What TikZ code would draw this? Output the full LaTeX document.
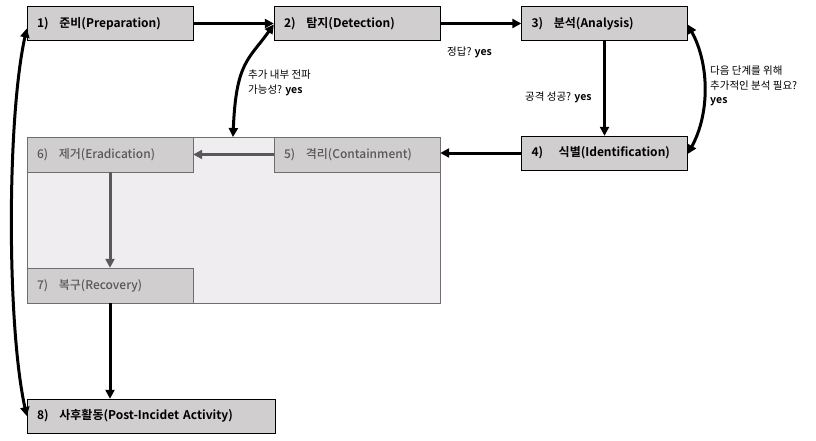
\documentclass[tikz,border=0pt]{standalone}
\usepackage{fontspec}
\setmainfont{Noto Sans CJK KR}[BoldFont={Noto Sans CJK KR Bold}]
\newfontfamily\medfont{Noto Sans CJK KR Medium}
\usetikzlibrary{arrows.meta}
\definecolor{boxgray}{HTML}{D0CECE}
\definecolor{areagray}{HTML}{EFEDEF}
\definecolor{textgray}{HTML}{595959}
\definecolor{linegray}{HTML}{6E6E6E}
\tikzset{
  step box/.style={
    draw=black, fill=boxgray, inner xsep=10pt, inner ysep=0pt,
    minimum height=34pt, text width=#1, align=left,
    font=\fontsize{12}{14}\selectfont\bfseries
  },
  step box/.default=146pt,
  inner box/.style={
    draw=linegray, fill=boxgray, text=textgray, inner xsep=10pt, inner ysep=0pt,
    minimum height=35pt, text width=146pt, align=left,
    font=\fontsize{12}{14}\selectfont\medfont
  },
  big arrow/.style={
    black, line width=3pt, -{Triangle[length=9pt,width=9pt]}
  },
  both arrow/.style={
    black, line width=3pt,
    {Triangle[length=9pt,width=9pt]}-{Triangle[length=9pt,width=9pt]}
  },
  gray arrow/.style={
    textgray, line width=3pt, -{Triangle[length=9pt,width=9pt]}
  },
  note/.style={
    anchor=west, align=left, inner sep=0pt,
    font=\fontsize{10.5}{14.5}\selectfont
  }
}

\begin{document}
\begin{tikzpicture}[x=1pt,y=-1pt]
\useasboundingbox (0,0) rectangle (816,441);

% 위쪽 줄: 1) - 2) - 3)
\node[step box] (b1) at (110,23.5) {1)\hspace{0.9em}준비(Preparation)};
\node[step box] (b2) at (357,23.5) {2)\hspace{0.9em}탐지(Detection)};
\node[step box] (b3) at (604.5,23.5) {3)\hspace{0.9em}분석(Analysis)};
\node[step box] (b4) at (604.5,153) {4)\hspace{1.3em}식별(Identification)};

% 회색 영역: 5) 6) 7)
\node[draw=linegray, fill=areagray, minimum width=413pt, minimum height=166pt,
      inner sep=0pt] (cont) at (233.5,220) {};
\node[inner box] (b5) at (357,154.5) {5)\hspace{0.9em}격리(Containment)};
\node[inner box] (b6) at (110,154.5) {6)\hspace{0.9em}제거(Eradication)};
\node[inner box] (b7) at (110,285.5) {7)\hspace{0.9em}복구(Recovery)};

\node[step box=228pt] (b8) at (151,416) {8)\hspace{0.9em}사후활동(Post-Incidet Activity)};

% 연결선
\draw[big arrow] (b1.east) -- (b2.west);
\draw[big arrow] (b2.east) -- (b3.west);
\draw[big arrow] (b3.south) -- (b4.north);
\draw[big arrow] (b4.west) -- (b4.west -| cont.east);
\draw[gray arrow] (b5.west) -- (b6.east);
\draw[gray arrow] (b6.south) -- (b7.north);
\draw[big arrow] (b7.south) -- (b7.south |- b8.north);

% 곡선 화살표
\coordinate (c2) at (233,137);
\draw[both arrow] (c2) .. controls +(3,-75) and +(-25,35) .. ([yshift=-1pt]b2.west);
\draw[both arrow] ([yshift=-5pt]b1.west) .. controls +(-20,90) and +(-20,-90) .. (b8.west);
\draw[both arrow] ([yshift=-1pt]b3.east) .. controls +(22,40) and +(22,-40) .. ([yshift=-1pt]b4.east);

% 조건 라벨
\node[note] (l1) at (447,52) {정답? \textbf{yes}};
\node[note] (l2) at (248,83) {추가 내부 전파\\가능성? \textbf{yes}};
\node[note] (l3) at (525,97) {공격 성공? \textbf{yes}};
\node[note] (l4) at (710,86) {다음 단계를 위해\\추가적인 분석 필요?\\\textbf{yes}};
\end{tikzpicture}
\end{document}
